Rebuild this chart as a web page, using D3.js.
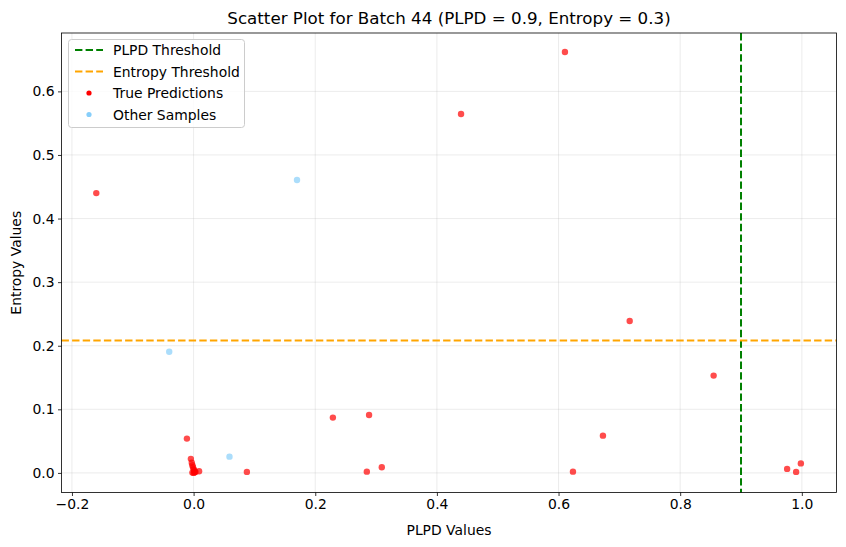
<!DOCTYPE html>
<html><head><meta charset="utf-8">
<script src="https://cdn.jsdelivr.net/npm/d3@7"></script>
<style>body{margin:0;background:#fff;} text{font-family:"DejaVu Sans",sans-serif;}</style>
</head><body>
<svg id="c" width="846" height="547"></svg>
<script>
const trueX = [-0.160, 0.4397, 0.6105, 0.717, 0.855, 0.229, 0.2885, 0.2848, 0.3094, 0.6237, 0.673, 0.9758, 0.9906, 0.9984, 0.0876, -0.011, -0.0045, -0.003, -0.002, -0.001, 0.000, 0.001, 0.002, 0.001, 0.003, 0.009, -0.002, 0.0];
const trueY = [0.440, 0.5645, 0.662, 0.239, 0.153, 0.087, 0.091, 0.002, 0.0088, 0.002, 0.0586, 0.0063, 0.0016, 0.015, 0.0016, 0.054, 0.0221, 0.016, 0.012, 0.009, 0.006, 0.004, 0.002, 0.001, 0.0015, 0.0025, 0.0005, 0.0];
const otherX = [0.170, -0.0401, 0.059];
const otherY = [0.4606, 0.1906, 0.0256];
const xTicks = [-0.2, 0.0, 0.2, 0.4, 0.6, 0.8, 1.0];
const yTicks = [0.0, 0.1, 0.2, 0.3, 0.4, 0.5, 0.6];
const plpdThreshold = 0.9;
const entropyLine = 0.2083;
const titleText = "Scatter Plot for Batch 44 (PLPD = 0.9, Entropy = 0.3)";

const svg = d3.select("#c");
const L = 61.5, R = 836.5, T = 33, B = 492.5;
const x = d3.scaleLinear().domain([-0.2172, 1.0570]).range([L, R]);
const y = d3.scaleLinear().domain([-0.0308, 0.6918]).range([B, T]);
const fmt = d => d3.format(".1f")(d).replace("-", "\u2212");
const DASH = "7.4,3.2";

const g = svg.append("g");
// grid
g.selectAll(".gx").data(xTicks).enter().append("line")
  .attr("x1", d => x(d)).attr("x2", d => x(d)).attr("y1", T).attr("y2", B)
  .attr("stroke", "#b0b0b0").attr("stroke-opacity", 0.3).attr("stroke-width", 0.8);
g.selectAll(".gy").data(yTicks).enter().append("line")
  .attr("y1", d => y(d)).attr("y2", d => y(d)).attr("x1", L).attr("x2", R)
  .attr("stroke", "#b0b0b0").attr("stroke-opacity", 0.3).attr("stroke-width", 0.8);

// threshold lines
g.append("line").attr("x1", x(plpdThreshold)).attr("x2", x(plpdThreshold)).attr("y1", T).attr("y2", B)
  .attr("stroke", "green").attr("stroke-width", 2).attr("stroke-dasharray", DASH);
g.append("line").attr("y1", y(entropyLine)).attr("y2", y(entropyLine)).attr("x1", L).attr("x2", R)
  .attr("stroke", "orange").attr("stroke-width", 2).attr("stroke-dasharray", DASH);

// points
g.selectAll(".t").data(trueX.map((v, i) => [v, trueY[i]])).enter().append("circle")
  .attr("cx", d => x(d[0])).attr("cy", d => y(d[1])).attr("r", 3.2)
  .attr("fill", "red").attr("fill-opacity", 0.7);
g.selectAll(".o").data(otherX.map((v, i) => [v, otherY[i]])).enter().append("circle")
  .attr("cx", d => x(d[0])).attr("cy", d => y(d[1])).attr("r", 3.2)
  .attr("fill", "lightskyblue").attr("fill-opacity", 0.7);

// axes
const xa = svg.append("g").attr("transform", `translate(0,${B})`)
  .call(d3.axisBottom(x).tickValues(xTicks).tickFormat(fmt).tickSize(3.5).tickPadding(3.5));
const ya = svg.append("g").attr("transform", `translate(${L},0)`)
  .call(d3.axisLeft(y).tickValues(yTicks).tickFormat(fmt).tickSize(3.5).tickPadding(3.5));
[xa, ya].forEach(a => {
  a.select(".domain").remove();
  a.selectAll("text").attr("font-size", 13.9).attr("fill", "#000").attr("font-family", "DejaVu Sans");
  a.selectAll("line").attr("stroke", "#000").attr("stroke-width", 0.8);
});
svg.append("rect").attr("x", L).attr("y", T).attr("width", R - L).attr("height", B - T)
  .attr("fill", "none").attr("stroke", "#000").attr("stroke-width", 0.8);

// labels
svg.append("text").attr("x", (L + R) / 2).attr("y", 24).attr("text-anchor", "middle")
  .attr("font-size", 16.7).text(titleText);
svg.append("text").attr("x", (L + R) / 2).attr("y", 535).attr("text-anchor", "middle")
  .attr("font-size", 13.9).text("PLPD Values");
svg.append("text").attr("transform", `translate(21,${(T + B) / 2}) rotate(-90)`).attr("text-anchor", "middle")
  .attr("font-size", 13.9).text("Entropy Values");

// legend
const lg = svg.append("g");
lg.append("rect").attr("x", 68.5).attr("y", 39.5).attr("width", 176).attr("height", 88).attr("rx", 3)
  .attr("fill", "#fff").attr("fill-opacity", 0.8).attr("stroke", "#cccccc").attr("stroke-width", 1);
const items = [
  {label: "PLPD Threshold", type: "line", color: "green"},
  {label: "Entropy Threshold", type: "line", color: "orange"},
  {label: "True Predictions", type: "dot", color: "red"},
  {label: "Other Samples", type: "dot", color: "lightskyblue"}
];
items.forEach((it, i) => {
  const cy = 50 + i * 21.5;
  if (it.type === "line") {
    lg.append("line").attr("x1", 75).attr("x2", 103).attr("y1", cy).attr("y2", cy)
      .attr("stroke", it.color).attr("stroke-width", 2).attr("stroke-dasharray", DASH);
  } else {
    lg.append("circle").attr("cx", 89).attr("cy", cy).attr("r", 2.6).attr("fill", it.color);
  }
  lg.append("text").attr("x", 113).attr("y", cy + 5).attr("font-size", 13.9).text(it.label);
});
</script>
</body></html>
